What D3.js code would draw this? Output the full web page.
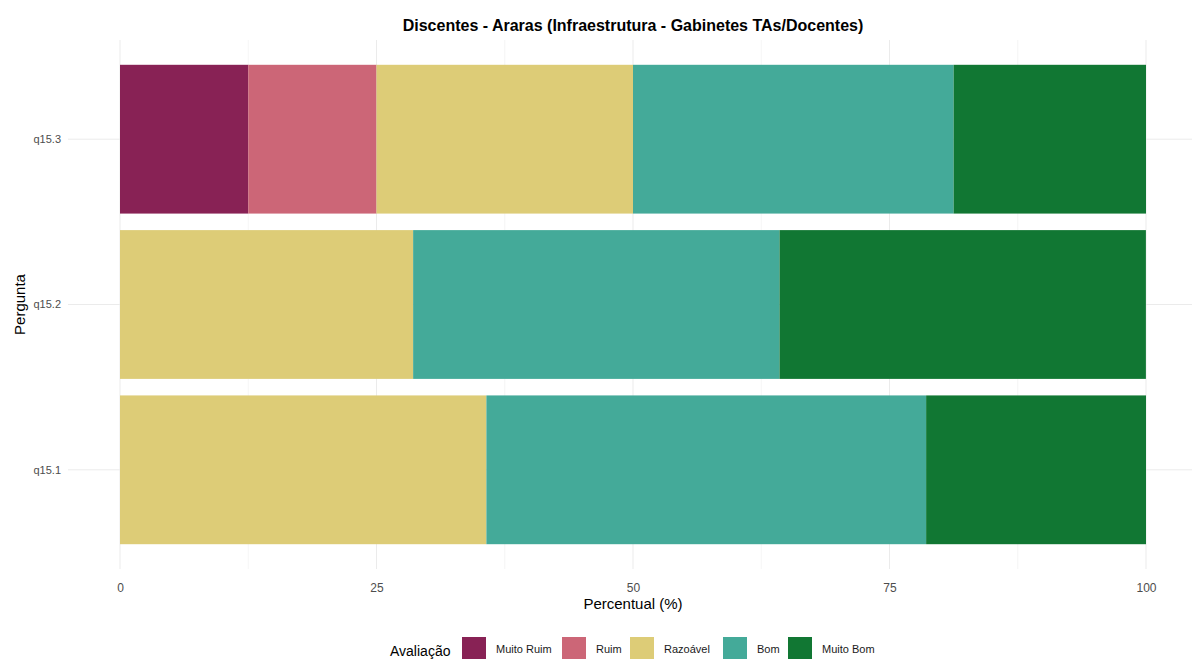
<!DOCTYPE html>
<html lang="pt">
<head>
    <meta charset="utf-8">
    <title>Discentes - Araras</title>
    <script src="https://cdn.jsdelivr.net/npm/d3@7"></script>
    <style>
        body { margin: 0; background: #fff; }
        text { font-family: "Liberation Sans", Arial, sans-serif; }
    </style>
</head>
<body>
<script>
    // perguntas (de baixo para cima no gráfico)
    var perguntas = ["q15.1", "q15.2", "q15.3"];
    // categorias de avaliação
    var categorias = ["Muito Ruim", "Ruim", "Razoável", "Bom", "Muito Bom"];
    var cores = ["#882255", "#CC6677", "#DDCC77", "#44AA99", "#117733"];
    // percentuais por pergunta, na ordem das categorias
    var q151 = [0, 0, 35.71, 42.86, 21.43];
    var q152 = [0, 0, 28.57, 35.71, 35.71];
    var q153 = [12.5, 12.5, 25, 31.25, 18.75];
    var xTicks = [0, 25, 50, 75, 100];

    var valores = {"q15.1": q151, "q15.2": q152, "q15.3": q153};

    var width = 1192, height = 659;
    var svg = d3.select("body").append("svg")
        .attr("width", width)
        .attr("height", height);

    // área do painel
    var panel = {left: 68, right: 1192, top: 40, bottom: 569};

    var x = d3.scaleLinear().domain([0, 100]).range([120, 1146]);
    // escala discreta com expansão de 0.6 como no ggplot
    var step = (panel.bottom - panel.top) / (perguntas.length + 0.2);
    var y = function (p) {
        var i = perguntas.indexOf(p);
        return panel.bottom - (0.6 + i) * step;  // centro da barra
    };
    var barH = step * 0.9;

    // grade
    var grid = svg.append("g");
    d3.range(0, 101, 12.5).forEach(function (v) {
        grid.append("line")
            .attr("x1", x(v)).attr("x2", x(v))
            .attr("y1", panel.top).attr("y2", panel.bottom)
            .attr("stroke", "#ebebeb")
            .attr("stroke-width", v % 25 === 0 ? 1 : 0.5);
    });
    perguntas.forEach(function (p) {
        grid.append("line")
            .attr("x1", panel.left).attr("x2", panel.right)
            .attr("y1", y(p)).attr("y2", y(p))
            .attr("stroke", "#ebebeb");
    });

    // empilhar os valores
    var linhas = perguntas.map(function (p) {
        var o = {pergunta: p};
        categorias.forEach(function (c, i) { o[c] = valores[p][i]; });
        return o;
    });
    var pilha = d3.stack().keys(categorias)(linhas);
    var cor = d3.scaleOrdinal().domain(categorias).range(cores);

    svg.append("g").selectAll("g")
        .data(pilha)
        .enter().append("g")
        .attr("fill", function (d) { return cor(d.key); })
        .selectAll("rect")
        .data(function (d) { return d; })
        .enter().append("rect")
        .attr("x", function (d) { return x(d[0]); })
        .attr("width", function (d) { return x(d[1]) - x(d[0]); })
        .attr("y", function (d) { return y(d.data.pergunta) - barH / 2; })
        .attr("height", barH);

    // eixo x
    var xAxis = svg.append("g")
        .attr("transform", "translate(0," + panel.bottom + ")")
        .call(d3.axisBottom(x).tickValues(xTicks).tickSize(0).tickPadding(14));
    xAxis.select(".domain").remove();
    xAxis.selectAll("text").attr("fill", "#4d4d4d").style("font-size", "12px");

    // eixo y
    var yAxisG = svg.append("g");
    perguntas.forEach(function (p) {
        yAxisG.append("text")
            .attr("x", 61).attr("y", y(p))
            .attr("dy", "0.35em")
            .attr("text-anchor", "end")
            .attr("fill", "#4d4d4d")
            .style("font-size", "11px")
            .text(p);
    });

    // títulos
    svg.append("text")
        .attr("x", 633).attr("y", 31)
        .attr("text-anchor", "middle")
        .style("font-size", "16px").style("font-weight", "bold")
        .attr("fill", "#000")
        .text("Discentes - Araras (Infraestrutura - Gabinetes TAs/Docentes)");

    svg.append("text")
        .attr("x", 633).attr("y", 609)
        .attr("text-anchor", "middle")
        .style("font-size", "15px")
        .text("Percentual (%)");

    svg.append("text")
        .attr("transform", "translate(25," + ((panel.top + panel.bottom) / 2) + ") rotate(-90)")
        .attr("text-anchor", "middle")
        .style("font-size", "15px")
        .text("Pergunta");

    // legenda
    var legenda = svg.append("g");
    legenda.append("text")
        .attr("x", 390).attr("y", 656)
        .style("font-size", "14px")
        .text("Avaliação");
    var keyX = [462, 562, 630, 723, 788];
    categorias.forEach(function (c, i) {
        legenda.append("rect")
            .attr("x", keyX[i]).attr("y", 637)
            .attr("width", 24).attr("height", 22)
            .attr("fill", cor(c));
        legenda.append("text")
            .attr("x", keyX[i] + 34).attr("y", 653)
            .style("font-size", "11px")
            .attr("fill", "#1a1a1a")
            .text(c);
    });
</script>
</body>
</html>
